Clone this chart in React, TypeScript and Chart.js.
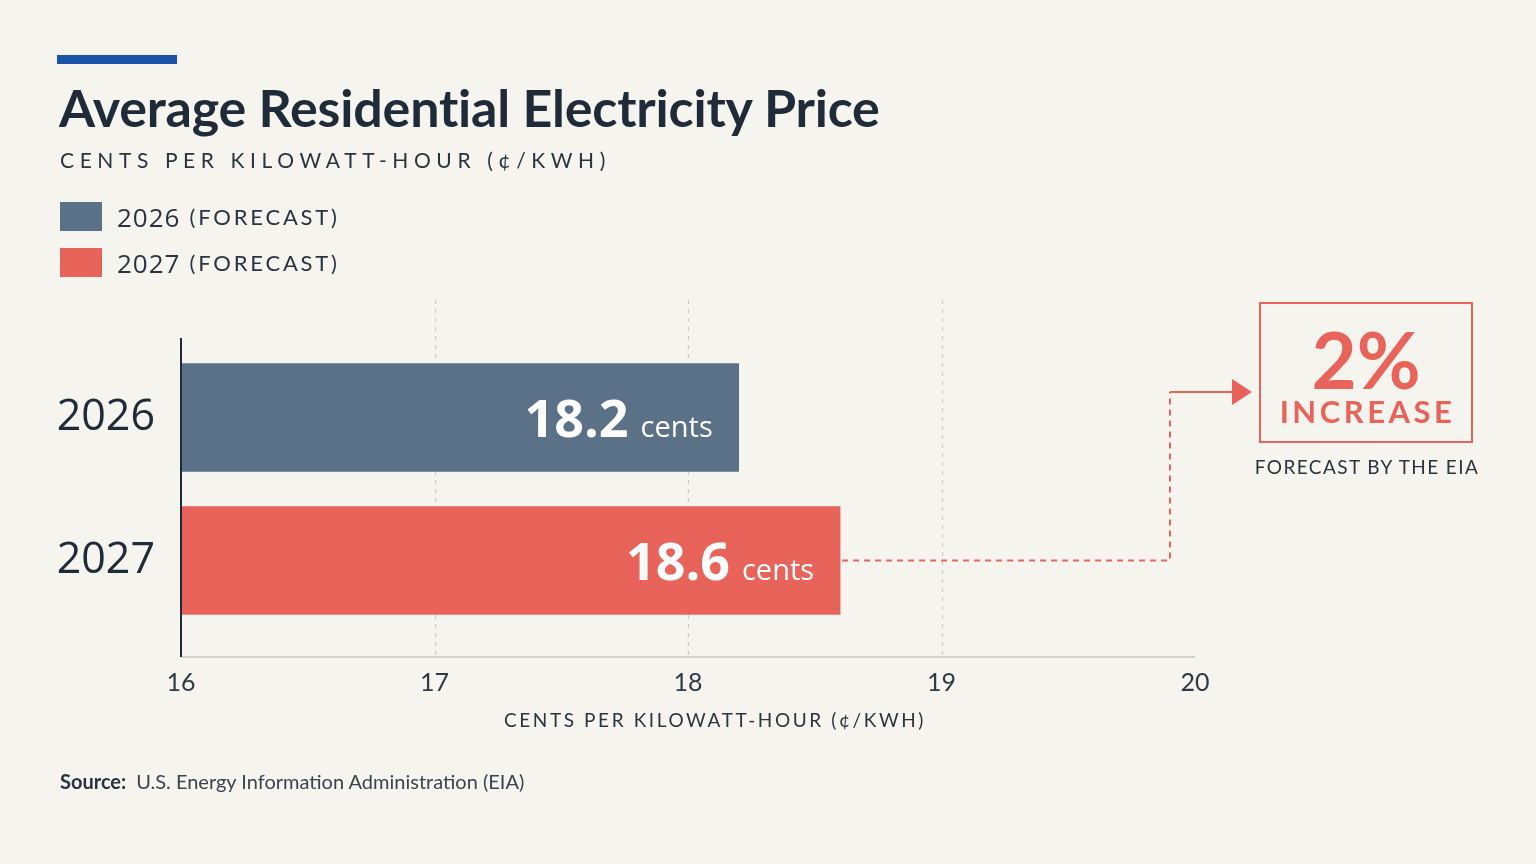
import React, { useEffect, useRef } from 'react';
import { Chart, registerables } from 'chart.js';

Chart.register(...registerables);

// ---- data ----
const categories = ['2026', '2027'];
const prices = [18.2, 18.6];
const barColors = ['#5b7188', '#e8635a'];
const legendYears = ['2026', '2027'];
const legendSuffix = '(FORECAST)';
const xMin = 16;
const xMax = 20;
const xStep = 1;
const gridValues = [17, 18, 19];
const unitLabel = 'cents';
const increaseLabel = '2%';
const increaseWord = 'INCREASE';
const increaseNote = 'FORECAST BY THE EIA';
const axisTitle = 'CENTS PER KILOWATT-HOUR (¢/KWH)';
const titleText = 'Average Residential Electricity Price';
const subtitleText = 'CENTS PER KILOWATT-HOUR (¢/KWH)';
const sourceLabel = 'Source:';
const sourceText = 'U.S. Energy Information Administration (EIA)';

const BG = '#f6f4ef';
const INK = '#1f2b38';
const RED = '#e8635a';

const overlayPlugin = {
  id: 'overlay',
  beforeDatasetsDraw(chart: any) {
    const { ctx, chartArea } = chart;
    const x = chart.scales.x;
    ctx.save();
    ctx.strokeStyle = '#cfcbc3';
    ctx.lineWidth = 1.2;
    ctx.setLineDash([4, 5]);
    gridValues.forEach((v) => {
      const px = Math.round(x.getPixelForValue(v)) + 0.5;
      ctx.beginPath();
      ctx.moveTo(px, chartArea.top - 46);
      ctx.lineTo(px, chartArea.bottom + 25);
      ctx.stroke();
    });
    ctx.setLineDash([]);
    ctx.strokeStyle = '#c9c6c0';
    ctx.lineWidth = 1.5;
    ctx.beginPath();
    ctx.moveTo(chartArea.left, chartArea.bottom + 25);
    ctx.lineTo(chartArea.right, chartArea.bottom + 25);
    ctx.stroke();
    ctx.restore();
  },
  afterDatasetsDraw(chart: any) {
    const { ctx, chartArea } = chart;
    const meta = chart.getDatasetMeta(0);
    ctx.save();
    // y axis line
    ctx.strokeStyle = INK;
    ctx.lineWidth = 2;
    ctx.beginPath();
    ctx.moveTo(chartArea.left, chartArea.top - 8);
    ctx.lineTo(chartArea.left, chartArea.bottom + 25);
    ctx.stroke();

    // value labels
    meta.data.forEach((bar: any, i: number) => {
      const right = bar.x - 26;
      const baseY = bar.y + 19;
      ctx.fillStyle = '#ffffff';
      ctx.textAlign = 'right';
      ctx.textBaseline = 'alphabetic';
      ctx.font = '400 29px "Open Sans"';
      const cw = ctx.measureText(unitLabel).width;
      ctx.fillText(unitLabel, right, baseY);
      ctx.font = '700 52px "Open Sans"';
      ctx.fillText(prices[i].toFixed(1), right - cw - 12, baseY);
    });

    // connector from last bar to annotation
    const last = meta.data[meta.data.length - 1];
    const turnX = 1170;
    const topY = 392;
    ctx.strokeStyle = RED;
    ctx.fillStyle = RED;
    ctx.lineWidth = 2;
    ctx.setLineDash([6, 5]);
    ctx.beginPath();
    ctx.moveTo(last.x + 2, last.y);
    ctx.lineTo(turnX, last.y);
    ctx.lineTo(turnX, topY);
    ctx.stroke();
    ctx.setLineDash([]);
    ctx.beginPath();
    ctx.moveTo(turnX, topY);
    ctx.lineTo(1234, topY);
    ctx.stroke();
    ctx.beginPath();
    ctx.moveTo(1232, topY - 13);
    ctx.lineTo(1252, topY);
    ctx.lineTo(1232, topY + 13);
    ctx.closePath();
    ctx.fill();
    ctx.restore();
  },
};

function ChartCanvas() {
  const ref = useRef<HTMLCanvasElement>(null);
  useEffect(() => {
    if (!ref.current) return;
    const chart = new Chart(ref.current, {
      type: 'bar',
      data: {
        labels: categories,
        datasets: [
          {
            data: prices,
            backgroundColor: barColors,
            borderWidth: 0,
            barThickness: 108,
          },
        ],
      },
      options: {
        indexAxis: 'y',
        responsive: false,
        animation: false,
        devicePixelRatio: 1,
        layout: { padding: { left: 0, right: 341, top: 346, bottom: 172 } },
        plugins: { legend: { display: false }, tooltip: { enabled: false } },
        scales: {
          x: {
            type: 'linear',
            min: xMin,
            max: xMax,
            grid: { display: false, drawTicks: false },
            border: { display: false },
            ticks: {
              stepSize: xStep,
              padding: 36,
              color: '#2f3a46',
              font: { family: 'Lato', size: 25, weight: '400' },
            },
            afterFit: (s: any) => {
              s.height = 60;
            },
          },
          y: {
            grid: { display: false, drawTicks: false },
            border: { display: false },
            ticks: {
              padding: 26,
              color: INK,
              font: { family: 'Open Sans', size: 43, weight: '500' },
            },
            afterFit: (s: any) => {
              s.width = 181;
            },
          },
        },
      } as any,
      plugins: [overlayPlugin],
    });
    return () => chart.destroy();
  }, []);
  return (
    <canvas
      ref={ref}
      width={1536}
      height={864}
      style={{ position: 'absolute', left: 0, top: 0, width: 1536, height: 864 }}
    />
  );
}

export default function App() {
  const abs = (s: React.CSSProperties): React.CSSProperties => ({ position: 'absolute', margin: 0, ...s });
  return (
    <div
      style={{
        position: 'fixed',
        left: 0,
        top: 0,
        width: 1536,
        height: 864,
        background: BG,
        overflow: 'hidden',
        fontFamily: 'Lato, sans-serif',
        color: INK,
      }}
    >
      <ChartCanvas />
      <div style={abs({ left: 57, top: 55, width: 120, height: 9, background: '#1a52a8' })} />
      <div style={abs({ left: 59, top: 75, fontSize: 52, fontWeight: 700, lineHeight: '64px', whiteSpace: 'nowrap', letterSpacing: '-0.2px' })}>
        {titleText}
      </div>
      <div style={abs({ left: 60, top: 146, fontSize: 21, lineHeight: '28px', letterSpacing: '5.6px', color: '#2a3440', whiteSpace: 'nowrap' })}>
        {subtitleText}
      </div>
      {legendYears.map((yr, i) => (
        <div key={yr} style={abs({ left: 60, top: 202 + i * 46, height: 29, display: 'flex', alignItems: 'center', whiteSpace: 'nowrap' })}>
          <div style={{ width: 42, height: 29, background: barColors[i], marginRight: 15 }} />
          <span style={{ fontFamily: '"Open Sans"', fontSize: 26, color: '#2a3440', letterSpacing: '1px' }}>{yr}</span>
          <span style={{ fontFamily: 'Lato', fontSize: 22, color: '#2a3440', letterSpacing: '2.8px', marginLeft: 9 }}>{legendSuffix}</span>
        </div>
      ))}
      <div style={abs({ left: 0, width: 1430, top: 708, textAlign: 'center', fontSize: 19, lineHeight: '24px', letterSpacing: '2.6px', color: '#2a3440', whiteSpace: 'nowrap' })}>
        {axisTitle}
      </div>
      <div
        style={abs({
          left: 1259,
          top: 302,
          width: 214,
          height: 141,
          boxSizing: 'border-box',
          border: `2px solid ${RED}`,
          color: RED,
          textAlign: 'center',
        })}
      >
        <div style={{ fontSize: 78, fontWeight: 700, lineHeight: '78px', marginTop: 16 }}>{increaseLabel}</div>
        <div style={{ fontSize: 31, fontWeight: 700, lineHeight: '34px', letterSpacing: '3.5px', marginTop: -4, paddingLeft: 3 }}>{increaseWord}</div>
      </div>
      <div style={abs({ left: 1226, width: 282, top: 455, textAlign: 'center', fontSize: 19, lineHeight: '24px', letterSpacing: '1.4px', color: '#2a3440', whiteSpace: 'nowrap' })}>
        {increaseNote}
      </div>
      <div style={abs({ left: 60, top: 768, fontSize: 20, lineHeight: '26px', whiteSpace: 'nowrap', color: '#3a4450' })}>
        <span style={{ fontWeight: 700, color: '#2a3440' }}>{sourceLabel}</span>
        <span style={{ marginLeft: 10 }}>{sourceText}</span>
      </div>
    </div>
  );
}
